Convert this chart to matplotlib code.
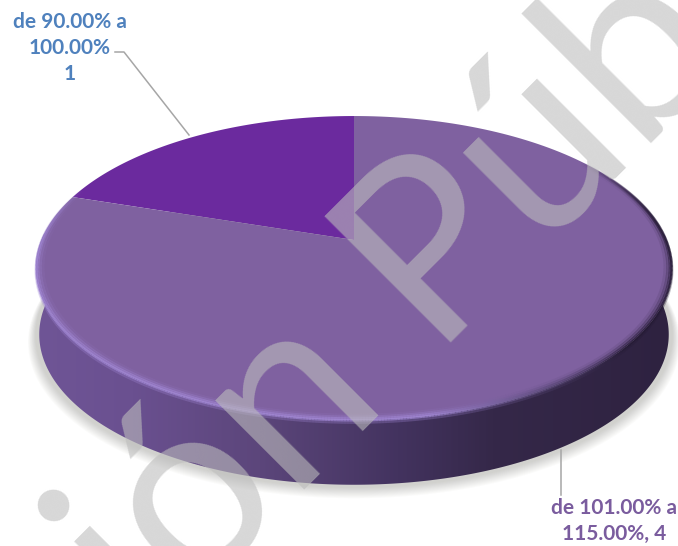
import numpy as np
import matplotlib
matplotlib.use('Agg')
import matplotlib.pyplot as plt
from matplotlib.colors import LinearSegmentedColormap, to_rgb
from matplotlib.collections import LineCollection
from matplotlib.patches import Polygon

# slices
categories = ['de 90.00% a\n100.00%\n1', 'de 101.00% a\n115.00%, 4']
values = [1, 4]
slice_colors = ['#6b2a9e', '#7f61a0']
label_colors = ['#4f81bd', '#7a5c9e']
watermark = 'Versión Pública'

# disc seen in perspective, in pixels
cx, cy = 354, 240
k = 0.1842
a = -102.6
c = 312.6
depth = 67


def disc(theta, s=1.0, dy=0.0):
    # theta measured clockwise from the top of the disc
    u = s * np.sin(theta)
    v = s * np.cos(theta)
    w = 1 + k * v
    return cx + c * u / w, (cy + a * v) / w + dy


fig = plt.figure(figsize=(6.78, 5.46), dpi=100)
ax = fig.add_axes([0, 0, 1, 1])
ax.axis('off')

th = np.linspace(0, 2 * np.pi, 720)

# shadow on the page
for d in range(1, 13):
    x, y = disc(th, 1.0 + d * 0.002, depth + d * 0.5)
    ax.add_patch(Polygon(np.c_[x, y], closed=True, fc='#5a5a50', ec='none', alpha=0.022, zorder=1))

# side of the disc
front = np.linspace(np.pi / 2 - 0.05, 3 * np.pi / 2 + 0.05, 300)
xt, yt = disc(front)
xb, yb = disc(front, 0.99, depth)
side = Polygon(np.r_[np.c_[xt, yt], np.c_[xb, yb][::-1]], closed=True, fc='none', ec='none', zorder=2)
ax.add_patch(side)
side_cmap = LinearSegmentedColormap.from_list('side', [
    (0.0, '#6f5596'), (0.15, '#6a5090'), (0.35, '#5c467b'),
    (0.57, '#43335f'), (0.72, '#352849'), (1.0, '#2e2240')])
img = ax.imshow(np.linspace(0, 1, 400).reshape(1, -1), cmap=side_cmap, aspect='auto',
                extent=(36, 672, 500, 200), zorder=2)
img.set_clip_path(side)

# top surface, one wedge per value
edges = np.r_[0, np.cumsum(values)] / np.sum(values) * 2 * np.pi
for i, val in enumerate(values):
    t = -np.linspace(edges[i], edges[i + 1], 200)
    x, y = disc(t)
    ax.add_patch(Polygon(np.r_[[[cx, cy]], np.c_[x, y]], closed=True,
                         fc=slice_colors[i], ec='none', zorder=3))

# bevel along the edge of the top
light = np.array(to_rgb('#a288d6'))
dark = np.array(to_rgb('#241a33'))
t = np.linspace(np.pi * 0.30, np.pi * 1.62, 500)
for s, dy, lw, al in [(1.0, 2.5, 2.0, 0.30), (0.999, 0.5, 1.8, 0.75), (0.994, 0, 2.0, 0.55),
                      (0.987, 0, 2.2, 0.28), (0.979, 0, 2.4, 0.10)]:
    x, y = disc(t, s, dy)
    pts = np.c_[x, y].reshape(-1, 1, 2)
    segs = np.concatenate([pts[:-1], pts[1:]], axis=1)
    f = np.clip((x[:-1] - 430) / 200, 0, 1)[:, None]
    cols = light * (1 - f) + dark * f
    fade = np.clip((t[:-1] - t[0]) / 0.5, 0, 1) * np.clip((t[-1] - t[:-1]) / 0.5, 0, 1)
    ax.add_collection(LineCollection(segs, colors=np.c_[cols, al * fade], linewidths=lw, zorder=4))

# labels and leader lines
ax.plot([115, 124, 189], [52, 52, 135], color='#a6a6a6', lw=1.1, zorder=5)
ax.plot([561, 561], [450, 495], color='#a6a6a6', lw=1.1, zorder=5)
ax.text(70, 48, categories[0], color=label_colors[0], fontsize=15, fontweight='bold',
        family='Lato', ha='center', va='center', linespacing=1.4, zorder=6)
ax.text(614, 521, categories[1], color=label_colors[1], fontsize=15, fontweight='bold',
        family='Lato', ha='center', va='center', linespacing=1.4, zorder=6)

# diagonal watermark
ax.text(396, 399, watermark, color='#bdbdbd', alpha=0.6, fontsize=179, family='Lato',
        rotation=45, rotation_mode='anchor', ha='center', va='baseline', zorder=7)

ax.set_xlim(0, 678)
ax.set_ylim(546, 0)
fig.savefig('out.png', dpi=100, facecolor='white')
